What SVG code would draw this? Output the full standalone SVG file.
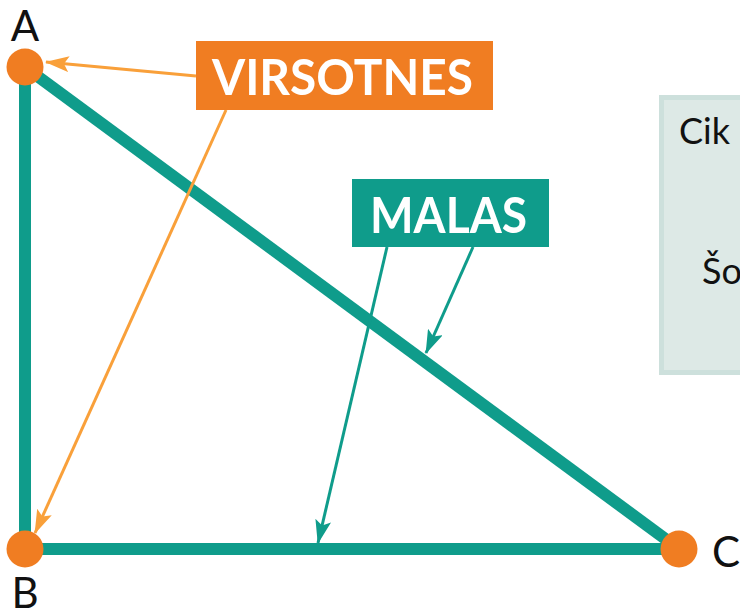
<svg xmlns="http://www.w3.org/2000/svg" width="740" height="614" viewBox="0 0 740 614">
  <style>
    .edge { stroke: #0f9c8b; stroke-width: 12; fill: none; }
    .vertex { fill: #f07d22; }
    .vlabel { font-family: Lato, "Open Sans", "Liberation Sans", sans-serif; font-size: 42px; fill: #111; }
    .tag { font-family: Lato, "Open Sans", "Liberation Sans", sans-serif; font-weight: 700; font-size: 50px; fill: #fff; }
    .ptr-o { stroke: #f9a03a; stroke-width: 3; fill: none; }
    .ptr-t { stroke: #0f9c8b; stroke-width: 3; fill: none; }
    .panel-text { font-family: Lato, "Open Sans", "Liberation Sans", sans-serif; font-size: 36px; fill: #111; }
  </style>
  <defs>
    <marker id="head-o" viewBox="0 0 24 16" refX="23" refY="8" markerWidth="24" markerHeight="16" markerUnits="userSpaceOnUse" orient="auto">
      <path d="M0,0 L24,8 L0,16 L5,8 Z" fill="#f9a03a"/>
    </marker>
    <marker id="head-t" viewBox="0 0 24 16" refX="23" refY="8" markerWidth="24" markerHeight="16" markerUnits="userSpaceOnUse" orient="auto">
      <path d="M0,0 L24,8 L0,16 L5,8 Z" fill="#0f9c8b"/>
    </marker>
  </defs>

  <!-- side panel (partly off the right edge) -->
  <g id="panel">
    <rect x="661.5" y="97.5" width="110" height="275" fill="#dde9e6" stroke="#cde0dc" stroke-width="5"/>
    <text class="panel-text" x="679" y="144">Cik</text>
    <text class="panel-text" x="702" y="284">Šo</text>
  </g>

  <!-- triangle sides -->
  <g id="edges">
    <line class="edge" x1="25" y1="67" x2="25" y2="549"/>
    <line class="edge" x1="25" y1="549" x2="679" y2="549"/>
    <line class="edge" x1="25" y1="67" x2="679" y2="549"/>
  </g>

  <!-- pointers from the labels -->
  <g id="connectors">
    <line class="ptr-o" x1="196" y1="76" x2="46" y2="62" marker-end="url(#head-o)"/>
    <line class="ptr-o" x1="226" y1="110" x2="35" y2="533" marker-end="url(#head-o)"/>
    <line class="ptr-t" x1="387" y1="247" x2="318" y2="543" marker-end="url(#head-t)"/>
    <line class="ptr-t" x1="473" y1="247" x2="426" y2="353" marker-end="url(#head-t)"/>
  </g>

  <g id="vertex-A">
    <circle class="vertex" cx="25" cy="67" r="18.5"/>
    <text class="vlabel" x="25" y="41" text-anchor="middle">A</text>
  </g>
  <g id="vertex-B">
    <circle class="vertex" cx="25" cy="549" r="18.5"/>
    <text class="vlabel" x="25" y="608" text-anchor="middle">B</text>
  </g>
  <g id="vertex-C">
    <circle class="vertex" cx="679" cy="549" r="18.5"/>
    <text class="vlabel" x="712" y="567">C</text>
  </g>

  <g id="label-virsotnes">
    <rect x="196" y="41" width="297" height="69" fill="#f07d22"/>
    <text class="tag" x="212" y="95" textLength="261" lengthAdjust="spacingAndGlyphs">VIRSOTNES</text>
  </g>
  <g id="label-malas">
    <rect x="352" y="179" width="197" height="68" fill="#0f9c8b"/>
    <text class="tag" x="370" y="233" textLength="157" lengthAdjust="spacingAndGlyphs">MALAS</text>
  </g>
</svg>
